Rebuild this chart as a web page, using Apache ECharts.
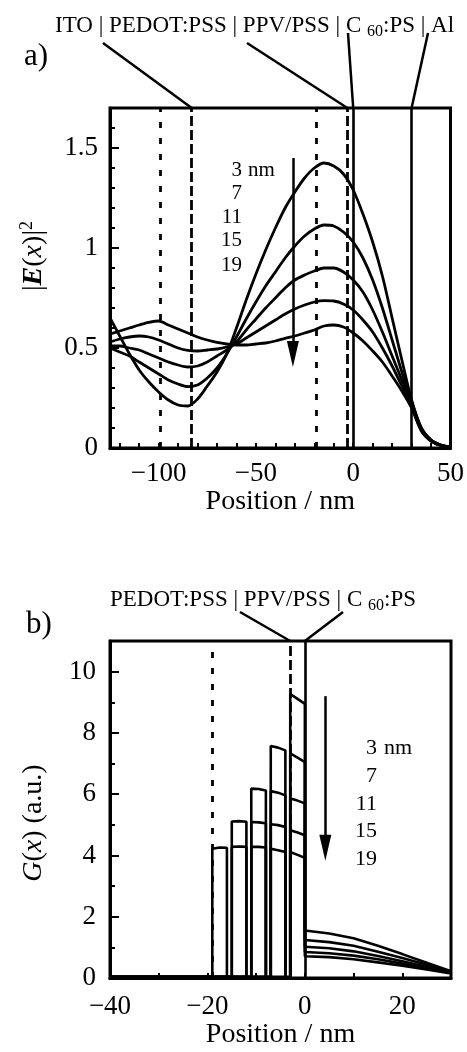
<!DOCTYPE html>
<html><head><meta charset="utf-8">
<script src="https://cdn.jsdelivr.net/npm/echarts@6/dist/echarts.min.js"></script>
<style>html,body{margin:0;padding:0;background:#fff}#c{width:467px;height:1052px}</style>
</head><body><div id="c"></div>
<script>
const FONT = '"Liberation Serif","Times New Roman",Times,serif';

// ---------------- Panel a) |E(x)|^2 ----------------
const posA = [-125,-120,-115,-110,-105,-100,-95,-90,-85,-80,-75,-70,-65,-60,-55,-50,-45,-40,-35,-30,-25,-20,-15,-10,-5,0,5,10,15,20,25,30,35,40,45,50];
const e2_3nm  = [0.65,0.56,0.47,0.39,0.33,0.28,0.24,0.215,0.21,0.245,0.31,0.38,0.47,0.60,0.74,0.87,0.99,1.10,1.20,1.28,1.35,1.40,1.425,1.41,1.37,1.29,1.17,1.03,0.86,0.65,0.44,0.24,0.10,0.04,0.015,0.005];
const e2_7nm  = [0.50,0.48,0.46,0.43,0.40,0.37,0.34,0.32,0.307,0.315,0.35,0.40,0.47,0.555,0.645,0.73,0.81,0.88,0.95,1.01,1.06,1.095,1.115,1.11,1.08,1.03,0.95,0.84,0.70,0.54,0.38,0.23,0.10,0.04,0.015,0.005];
const e2_11nm = [0.51,0.51,0.50,0.49,0.47,0.45,0.43,0.415,0.405,0.41,0.43,0.46,0.49,0.53,0.59,0.645,0.70,0.75,0.80,0.84,0.865,0.885,0.90,0.90,0.88,0.84,0.78,0.69,0.58,0.46,0.34,0.22,0.095,0.038,0.014,0.005];
const e2_15nm = [0.53,0.545,0.555,0.56,0.555,0.54,0.52,0.50,0.488,0.485,0.49,0.495,0.505,0.52,0.55,0.58,0.61,0.64,0.67,0.695,0.715,0.73,0.737,0.735,0.72,0.69,0.64,0.58,0.50,0.41,0.31,0.21,0.09,0.036,0.013,0.005];
const e2_19nm = [0.57,0.585,0.60,0.615,0.628,0.635,0.615,0.595,0.575,0.555,0.54,0.528,0.52,0.515,0.515,0.52,0.525,0.535,0.548,0.56,0.575,0.59,0.61,0.615,0.605,0.575,0.535,0.485,0.43,0.36,0.285,0.20,0.085,0.034,0.012,0.004];
const thicknessLabels = ['3','7','11','15','19'];

const ifaceA_dashed = [-83, -3];
const ifaceA_dotted = [-99, -19];
const ifaceA_solid  = [0, 30];
const xTicksA  = [-120,-110,-100,-90,-80,-70,-60,-50,-40,-30,-20,-10,0,10,20,30,40];
const xLabelsA = [-100,-50,0,50];
const yMajorA  = [0,0.5,1,1.5];
const yMinorA  = [0.1,0.2,0.3,0.4,0.6,0.7,0.8,0.9,1.1,1.2,1.3,1.4,1.6];
const arrowA   = [[-31,1.45],[-31,0.47]];

// ---------------- Panel b) G(x) ----------------
// PPV/PSS sub-layers (left edge, right edge); values left/mid/right per sub-layer, outermost first
const subLayers = [[-19,-16],[-15,-12],[-11,-8],[-7,-4],[-3,0]];
const ppv3nm  = [9.27,9.11,8.95];
const ppv7nm  = [7.57,7.52,7.43, 7.33,7.19,7.05];
const ppv11nm = [6.18,6.17,6.12, 6.10,6.05,5.96, 5.86,5.79,5.70];
const ppv15nm = [5.11,5.12,5.10, 5.09,5.08,5.05, 5.02,4.99,4.93, 4.82,4.75,4.66];
const ppv19nm = [4.22,4.26,4.25, 4.28,4.29,4.28, 4.28,4.28,4.26, 4.22,4.17,4.11, 4.11,4.02,3.92];
const gPedot  = [0.04,0.04,0.04,0.04,0.04];
const posC60  = [0,5,10,15,20,25,30];
const c60_3nm  = [1.55,1.45,1.30,1.05,0.78,0.50,0.22];
const c60_7nm  = [1.24,1.17,1.05,0.86,0.65,0.43,0.20];
const c60_11nm = [1.02,0.97,0.87,0.72,0.55,0.37,0.18];
const c60_15nm = [0.85,0.81,0.73,0.61,0.47,0.32,0.16];
const c60_19nm = [0.71,0.68,0.61,0.51,0.40,0.28,0.15];

const ifaceB_dotted = [-19];
const ifaceB_dashed = [-3];
const ifaceB_solid  = [0];
const xTicksB  = [-30,-20,-10,0,10,20];
const xLabelsB = [-40,-20,0,20];
const yMajorB  = [0,2,4,6,8,10];
const yMinorB  = [1,3,5,7,9];
const arrowB   = [[4.2,9.2],[4.2,4.25]];

// ---------------- build ----------------
const thickness = [3,7,11,15,19];
const e2All = [e2_3nm,e2_7nm,e2_11nm,e2_15nm,e2_19nm];
const ppvAll = [ppv3nm,ppv7nm,ppv11nm,ppv15nm,ppv19nm];
const c60All = [c60_3nm,c60_7nm,c60_11nm,c60_15nm,c60_19nm];

function buildG(i){
  const d = thickness[i], vals = ppvAll[i];
  const nSub = (d + 1) / 4;
  const layers = subLayers.slice(subLayers.length - nSub);
  const pts = [[-40, gPedot[i]], [-d, gPedot[i]]];
  layers.forEach((L, k) => {
    const v = vals.slice(k*3, k*3+3);
    if (k > 0) pts.push([L[0], 0]);
    pts.push([L[0], v[0]], [(L[0]+L[1])/2, v[1]], [L[1], v[2]]);
    if (L[1] < 0) pts.push([L[1], 0]);
  });
  posC60.forEach((x, j) => pts.push([x, c60All[i][j]]));
  return pts;
}

const BLACK = '#000';
function vlines(dashed, dotted, solid){
  const out = [];
  dashed.forEach(x => out.push({xAxis:x, lineStyle:{type:[10,4], width:2.8, color:BLACK}}));
  dotted.forEach(x => out.push({xAxis:x, lineStyle:{type:[6,10], width:2.8, color:BLACK}}));
  solid.forEach(x => out.push({xAxis:x, lineStyle:{type:'solid', width:2.6, color:BLACK}}));
  return out;
}
function arrowLine(a){
  return [[{coord:a[0], symbol:'none'}, {coord:a[1], symbol:'triangle', symbolSize:[12,26]}]];
}
const fmtNum = v => (v < 0 ? '\u2212' + Math.abs(v) : String(v));

const tickLabelStyle = {color:BLACK, fontFamily:FONT, fontSize:27};

function xAxisCfg(grid, min, max, ticks, labels, margin, gap){
  return {type:'value', gridIndex:grid, min, max,
    axisLine:{show:true, onZero:false, lineStyle:{color:BLACK, width:3}},
    axisTick:{show:true, inside:true, length:5, customValues:ticks, lineStyle:{color:BLACK, width:2}},
    axisLabel:{show:true, customValues:labels, margin, formatter:fmtNum, ...tickLabelStyle},
    splitLine:{show:false},
    name:'Position / nm', nameLocation:'middle', nameGap:gap,
    nameTextStyle:{color:BLACK, fontFamily:FONT, fontSize:28}};
}
function yAxisCfg(grid, min, max, ticks, labels, margin){
  return {type:'value', gridIndex:grid, min, max,
    axisLine:{show:true, onZero:false, lineStyle:{color:BLACK, width:3}},
    axisTick:{show:true, inside:true, length:9, customValues:ticks, lineStyle:{color:BLACK, width:2}},
    axisLabel:{show:true, customValues:labels, margin, ...tickLabelStyle},
    splitLine:{show:false}};
}
function yMinorCfg(grid, min, max, ticks){
  return {type:'value', gridIndex:grid, min, max, position:'left',
    axisLine:{show:false, onZero:false}, axisLabel:{show:false}, splitLine:{show:false},
    axisTick:{show:true, inside:true, length:5, customValues:ticks, lineStyle:{color:BLACK, width:2}}};
}

const series = [];
e2All.forEach((d, i) => {
  series.push({type:'line', name:'a'+thickness[i], xAxisIndex:0, yAxisIndex:0,
    data: posA.map((x, j) => [x, d[j]]), showSymbol:false, symbol:'none', smooth:0.3,
    lineStyle:{color:BLACK, width:2.8}, z:3, animation:false});
});
series.push({type:'line', xAxisIndex:0, yAxisIndex:0, data:[], z:2, animation:false,
  markLine:{silent:true, symbol:['none','none'], label:{show:false}, animation:false,
    data: vlines(ifaceA_dashed, ifaceA_dotted, ifaceA_solid)}});
series.push({type:'line', xAxisIndex:0, yAxisIndex:0, data:[], z:4, animation:false,
  markLine:{silent:true, label:{show:false}, animation:false,
    lineStyle:{color:BLACK, width:2.5, type:'solid'}, itemStyle:{color:BLACK},
    data: arrowLine(arrowA)}});

thickness.forEach((t, i) => {
  series.push({type:'line', name:'b'+t, xAxisIndex:1, yAxisIndex:2,
    data: buildG(i), showSymbol:false, symbol:'none', smooth:false,
    lineStyle:{color:BLACK, width:2.6}, z:3, animation:false});
});
series.push({type:'line', xAxisIndex:1, yAxisIndex:2, data:[], z:2, animation:false,
  markLine:{silent:true, symbol:['none','none'], label:{show:false}, animation:false,
    data: vlines(ifaceB_dashed, ifaceB_dotted, ifaceB_solid)}});
series.push({type:'line', xAxisIndex:1, yAxisIndex:2, data:[], z:4, animation:false,
  markLine:{silent:true, label:{show:false}, animation:false,
    lineStyle:{color:BLACK, width:2.5, type:'solid'}, itemStyle:{color:BLACK},
    data: arrowLine(arrowB)}});

const option = {
  backgroundColor:'#fff',
  animation:false,
  grid:[
    {left:110, right:16, top:108, height:340, show:true, borderColor:BLACK, borderWidth:3, backgroundColor:'transparent'},
    {left:110, right:16, top:641, height:337, show:true, borderColor:BLACK, borderWidth:3, backgroundColor:'transparent'}
  ],
  xAxis:[
    xAxisCfg(0, -125, 50, xTicksA, xLabelsA, 12, 40),
    xAxisCfg(1, -40, 30, xTicksB, xLabelsB, 15, 42)
  ],
  yAxis:[
    yAxisCfg(0, 0, 1.7, yMajorA, yMajorA, 12),
    yMinorCfg(0, 0, 1.7, yMinorA),
    yAxisCfg(1, 0, 11, yMajorB, yMajorB, 14),
    yMinorCfg(1, 0, 11, yMinorB)
  ],
  series
};

const chart = echarts.init(document.getElementById('c'), null, {renderer:'canvas'});
chart.setOption(option);

// ---------- annotations (texts + leader lines anchored to interfaces) ----------
const topA = chart.convertToPixel({gridIndex:0}, [0, 1.7])[1];
const topB = chart.convertToPixel({gridIndex:1}, [0, 11])[1];
const pxA = v => chart.convertToPixel({gridIndex:0}, [v, 1.7])[0];
const pxB = v => chart.convertToPixel({gridIndex:1}, [v, 11])[0];

const txt = (x, y, text, size, align, extra) => ({type:'text', x, y, z:10,
  style:Object.assign({text, fill:BLACK, font:size+'px '+FONT, textAlign:align||'left', textVerticalAlign:'alphabetic'}, extra||{})});
const seg = (x1,y1,x2,y2) => ({type:'line', z:10, shape:{x1,y1,x2,y2}, style:{stroke:BLACK, lineWidth:2.5}});

const richHdr = {
  n:{fontFamily:FONT, fontSize:23, color:BLACK, lineHeight:28, verticalAlign:'middle'},
  s:{fontFamily:FONT, fontSize:16, color:BLACK, lineHeight:16, verticalAlign:'bottom'}
};
const yBase = {fontFamily:FONT, fontSize:28, color:BLACK, lineHeight:32, verticalAlign:'middle'};
const richY = {
  n:{...yBase},
  b:{...yBase, fontWeight:'bold', fontStyle:'italic'},
  i:{...yBase, fontStyle:'italic'},
  s:{...yBase, fontSize:18, lineHeight:18, verticalAlign:'top'}
};

const graphic = [
  txt(24, 41, 'a)', 31),
  txt(26, 609, 'b)', 31),
  {type:'text', x:55, y:12, z:10, style:{text:'{n|ITO | PEDOT:PSS | PPV/PSS | C }{s|60}{n|:PS | Al}', rich:richHdr, fill:BLACK, textVerticalAlign:'top'}},
  {type:'text', x:110, y:586, z:10, style:{text:'{n|PEDOT:PSS | PPV/PSS | C }{s|60}{n|:PS}', rich:richHdr, fill:BLACK, textVerticalAlign:'top'}},
  {type:'text', x:34, y:256, rotation:Math.PI/2, z:10, style:{text:'{n||}{b|E}{n|(}{i|x}{n|)|}{s|2}', rich:richY, fill:BLACK, textAlign:'center', textVerticalAlign:'middle'}},
  {type:'text', x:34, y:823, rotation:Math.PI/2, z:10, style:{text:'{i|G}{n|(}{i|x}{n|) (a.u.)}', rich:richY, fill:BLACK, textAlign:'center', textVerticalAlign:'middle'}},
  seg(103, 43, pxA(ifaceA_dashed[0]), topA),
  seg(247, 43, pxA(ifaceA_dashed[1]), topA),
  seg(348, 33, pxA(ifaceA_solid[0]), topA),
  seg(428, 33, pxA(ifaceA_solid[1]), topA),
  seg(240, 612, pxB(ifaceB_dashed[0]), topB),
  seg(343, 612, pxB(ifaceB_solid[0]), topB)
];
const baseA = [160,183,207,230,255];
thicknessLabels.forEach((t, i) => graphic.push(txt(242, baseA[i], t, 21, 'right')));
graphic.push(txt(248, baseA[0], 'nm', 21, 'left'));
const baseB = [737,765,793,820,848];
thicknessLabels.forEach((t, i) => graphic.push(txt(377, baseB[i], t, 22, 'right')));
graphic.push(txt(384, baseB[0], 'nm', 22, 'left'));

chart.setOption({graphic});
</script>
</body></html>
